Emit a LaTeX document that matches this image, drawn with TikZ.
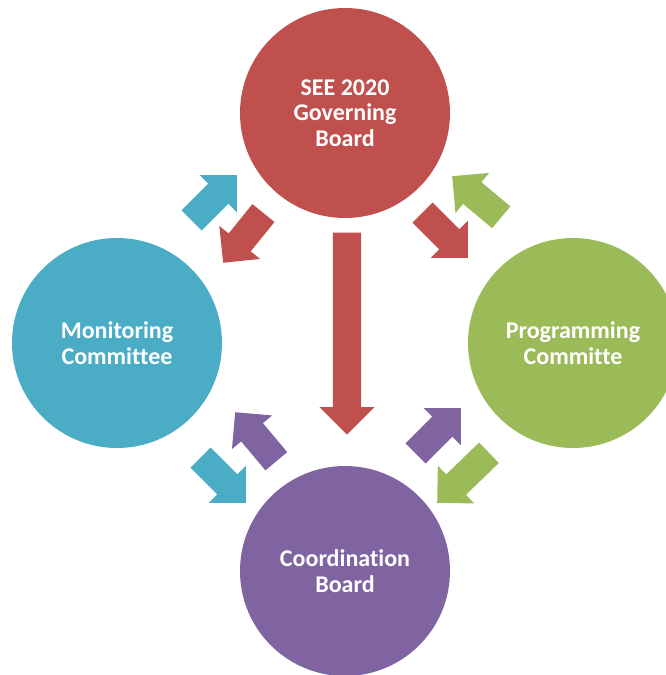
\documentclass[tikz,border=0pt]{standalone}
\usepackage{fontspec}
\setmainfont[Ligatures=NoCommon]{Carlito}
\definecolor{govred}{RGB}{192, 80, 77}
\definecolor{monblue}{RGB}{75, 172, 198}
\definecolor{proggreen}{RGB}{155, 187, 89}
\definecolor{coordpurple}{RGB}{128, 100, 162}
\usepackage{tikz}
\usepackage{xcolor}
\usetikzlibrary{shapes.arrows,positioning}
\tikzset{
    body/.style={circle, minimum size=210pt, inner sep=0pt, text=white,
        align=center, font=\fontsize{24}{25.5}\selectfont\bfseries},
    blockarrow/.style={single arrow, minimum height=64pt, inner sep=0pt,
        inner ysep=14pt, single arrow head extend=12pt, single arrow tip angle=90,
        anchor=tip}
}

\begin{document}
\begin{tikzpicture}[x=1pt, y=-1pt]
    \useasboundingbox (0,0) rectangle (666,675);
    % the four bodies
    \node[body, fill=govred] (gov) at (345,113) {SEE 2020\\Governing\\Board};
    \node[body, fill=monblue] (mon) at (117,343) {Monitoring\\Committee};
    \node[body, fill=proggreen] (prog) at (573,343) {Programming\\Committe};
    \node[body, fill=coordpurple] (coord) at (345,571) {Coordination\\Board};
    % exchanges between them, placed by their tips
    \node[blockarrow, fill=monblue, rotate=45] (monup) at (237,175) {};
    \node[blockarrow, fill=govred, rotate=231] (govleft) at (223,263) {};
    \node[blockarrow, fill=govred, rotate=-45] (govright) at (468,258) {};
    \node[blockarrow, fill=proggreen, rotate=140] (progup) at (452,176) {};
    \node[blockarrow, fill=coordpurple, rotate=130] (coordleft) at (235,412) {};
    \node[blockarrow, fill=monblue, rotate=-45] (mondown) at (246,503) {};
    \node[blockarrow, fill=coordpurple, rotate=45] (coordright) at (461,408) {};
    \node[blockarrow, fill=proggreen, rotate=224, minimum height=72pt] (progdown) at (437,503) {};
    % straight down to coordination
    \node[blockarrow, fill=govred, rotate=-90, minimum height=202pt,
        single arrow head extend=13.5pt] (govdown) at (347,435) {};
\end{tikzpicture}
\end{document}
